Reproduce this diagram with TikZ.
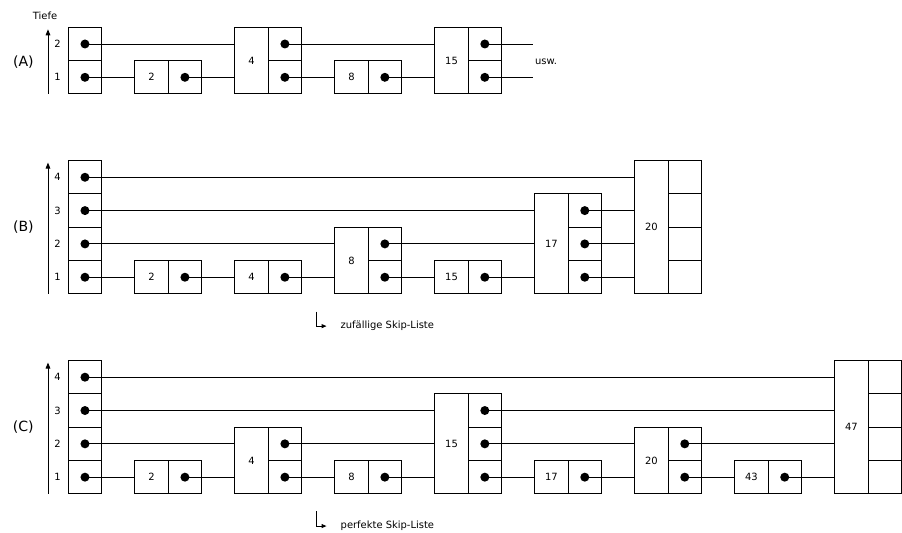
\documentclass[tikz,border=0pt]{standalone}
\usepackage{fontspec}
\setmainfont{DejaVu Sans}
\usetikzlibrary{arrows.meta}

% header column: pointer cells only
\newcommand{\headnode}[4]{%
	\foreach \l in {1,...,#4} {
		\node[ptrcell] (#1-\l) at ({#2+0.5},{#3+\l-0.5}) {};
		\fill (#1-\l.center) circle (0.135);
	}
}
% key cell plus pointer cells (#6 = 1 draws the dots)
\newcommand{\skipnode}[6]{%
	\node[keycell, minimum height=#4cm] (#1) at ({#2+0.5},{#3+#4/2}) {#5};
	\foreach \l in {1,...,#4} {
		\node[ptrcell] (#1-\l) at ({#2+1.5},{#3+\l-0.5}) {};
		\ifnum#6=1 \fill (#1-\l.center) circle (0.135);\fi
	}
}

\begin{document}
\begin{tikzpicture}[
				font=\fontsize{8.5}{10}\selectfont,
				cell/.style={draw, line width=0.8pt, inner sep=0pt, minimum width=1cm},
				keycell/.style={cell},
				ptrcell/.style={cell, minimum height=1cm},
				link/.style={line width=0.8pt},
				depth/.style={line width=0.8pt, -{Triangle[length=1.8mm,width=1.4mm]}},
				hook/.style={line width=0.8pt, -{Triangle[length=1.5mm,width=1.2mm]}},
				panel/.style={font=\fontsize{12}{14}\selectfont}]
				\useasboundingbox (0,0) rectangle (27.07,-15.99);
				
				% (A)
				\node (tiefe) at (1.35,-0.48) {Tiefe};
				\node[panel] (pA) at (0.7,-1.85) {(A)};
				\coordinate (axA-bot) at (1.44,-2.82);
				\coordinate (axA-top) at (1.44,-0.88);
				\draw[depth] (axA-bot) -- (axA-top);
				\foreach \l in {1,2} \node (ta-\l) at (1.73,{-2.82+\l-0.5}) {\l};
				\headnode{a0}{2.05}{-2.82}{2}
				\skipnode{a2}{4.05}{-2.82}{1}{2}{1}
				\skipnode{a4}{7.05}{-2.82}{2}{4}{1}
				\skipnode{a8}{10.05}{-2.82}{1}{8}{1}
				\skipnode{a15}{13.05}{-2.82}{2}{15}{1}
				\node[anchor=west, inner sep=1.5pt] (usw) at (16.0,-1.86) {usw.};
				\foreach \s/\t in {a0-2/a4, a4-2/a15, a15-2/usw, a0-1/a2, a2-1/a4, a4-1/a8, a8-1/a15, a15-1/usw}
					\draw[link] (\s.center) -- (\t.west |- \s.center);
				
				% (B)
				\node[panel] (pB) at (0.7,-6.82) {(B)};
				\coordinate (axB-bot) at (1.44,-8.82);
				\coordinate (axB-top) at (1.44,-4.88);
				\draw[depth] (axB-bot) -- (axB-top);
				\foreach \l in {1,...,4} \node (tb-\l) at (1.73,{-8.82+\l-0.5}) {\l};
				\headnode{b0}{2.05}{-8.82}{4}
				\skipnode{b2}{4.05}{-8.82}{1}{2}{1}
				\skipnode{b4}{7.05}{-8.82}{1}{4}{1}
				\skipnode{b8}{10.05}{-8.82}{2}{8}{1}
				\skipnode{b15}{13.05}{-8.82}{1}{15}{1}
				\skipnode{b17}{16.05}{-8.82}{3}{17}{1}
				\skipnode{b20}{19.05}{-8.82}{4}{20}{0}
				\foreach \s/\t in {b0-4/b20, b0-3/b17, b17-3/b20, b0-2/b8, b8-2/b17, b17-2/b20,
					b0-1/b2, b2-1/b4, b4-1/b8, b8-1/b15, b15-1/b17, b17-1/b20}
					\draw[link] (\s.center) -- (\t.west |- \s.center);
				\node[anchor=base west] (capB) at (10.1,-9.87) {zufällige Skip-Liste};
				\coordinate (capB-hook) at (9.51,-9.35);
				\draw[hook] (capB-hook) |- ([xshift=-0.3cm]capB.west);
				
				% (C)
				\node[panel] (pC) at (0.7,-12.82) {(C)};
				\coordinate (axC-bot) at (1.44,-14.82);
				\coordinate (axC-top) at (1.44,-10.88);
				\draw[depth] (axC-bot) -- (axC-top);
				\foreach \l in {1,...,4} \node (tc-\l) at (1.73,{-14.82+\l-0.5}) {\l};
				\headnode{c0}{2.05}{-14.82}{4}
				\skipnode{c2}{4.05}{-14.82}{1}{2}{1}
				\skipnode{c4}{7.05}{-14.82}{2}{4}{1}
				\skipnode{c8}{10.05}{-14.82}{1}{8}{1}
				\skipnode{c15}{13.05}{-14.82}{3}{15}{1}
				\skipnode{c17}{16.05}{-14.82}{1}{17}{1}
				\skipnode{c20}{19.05}{-14.82}{2}{20}{1}
				\skipnode{c43}{22.05}{-14.82}{1}{43}{1}
				\skipnode{c47}{25.05}{-14.82}{4}{47}{0}
				\foreach \s/\t in {c0-4/c47, c0-3/c15, c15-3/c47, c0-2/c4, c4-2/c15, c15-2/c20, c20-2/c47,
					c0-1/c2, c2-1/c4, c4-1/c8, c8-1/c15, c15-1/c17, c17-1/c20, c20-1/c43, c43-1/c47}
					\draw[link] (\s.center) -- (\t.west |- \s.center);
				\node[anchor=base west] (capC) at (10.1,-15.87) {perfekte Skip-Liste};
				\coordinate (capC-hook) at (9.51,-15.35);
				\draw[hook] (capC-hook) |- ([xshift=-0.3cm]capC.west);
			\end{tikzpicture}
\end{document}
